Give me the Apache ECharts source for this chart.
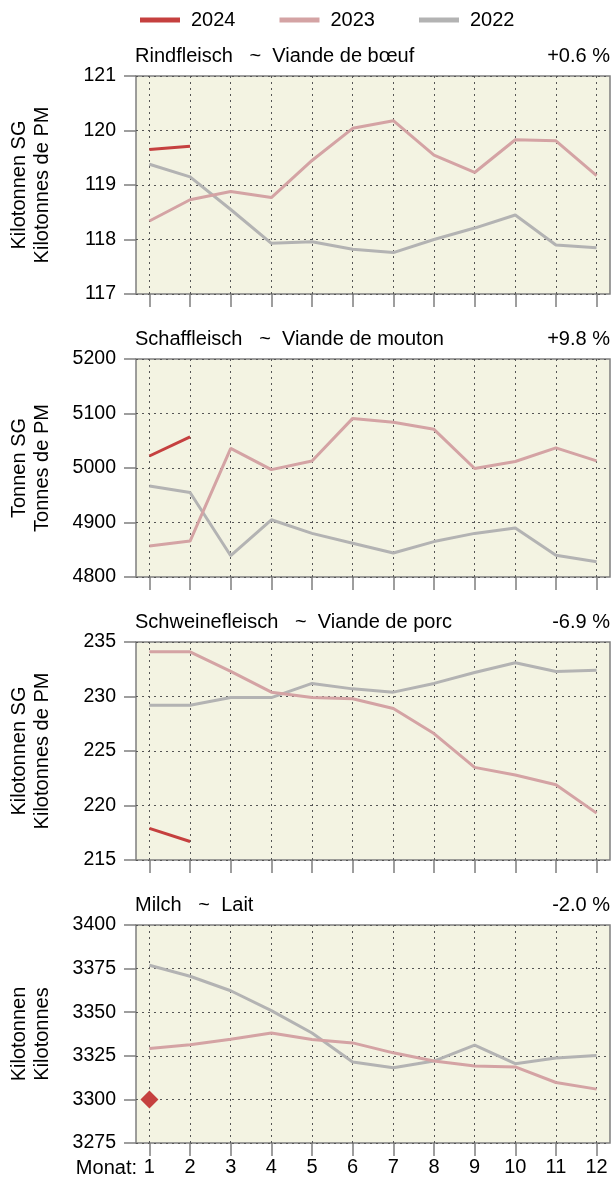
<!DOCTYPE html>
<html>
<head>
<meta charset="utf-8">
<script src="https://cdn.jsdelivr.net/npm/echarts@6/dist/echarts.min.js"></script>
<style>
  html, body { margin: 0; padding: 0; background: #fff; }
  #chart { width: 613px; height: 1186px; }
</style>
</head>
<body>
<div id="chart"></div>
<script>
// Monate
const months = [1, 2, 3, 4, 5, 6, 7, 8, 9, 10, 11, 12]
const years = ['2024', '2023', '2022']

// Rindfleisch (Kilotonnen SG)
const beef2024 = [119.65, 119.71]
const beef2023 = [118.34, 118.73, 118.88, 118.77, 119.45, 120.04, 120.18, 119.55, 119.23, 119.83, 119.81, 119.17]
const beef2022 = [119.38, 119.15, 118.55, 117.93, 117.96, 117.82, 117.76, 118.0, 118.21, 118.45, 117.9, 117.85]

// Schaffleisch (Tonnen SG)
const sheep2024 = [5022, 5057]
const sheep2023 = [4857, 4866, 5036, 4997, 5013, 5091, 5084, 5071, 4999, 5012, 5037, 5013]
const sheep2022 = [4967, 4955, 4839, 4905, 4880, 4862, 4844, 4865, 4880, 4890, 4840, 4828]

// Schweinefleisch (Kilotonnen SG)
const pork2024 = [217.9, 216.7]
const pork2023 = [234.1, 234.1, 232.3, 230.4, 229.9, 229.8, 228.9, 226.6, 223.5, 222.8, 221.9, 219.3]
const pork2022 = [229.2, 229.2, 229.9, 229.9, 231.2, 230.7, 230.4, 231.2, 232.2, 233.1, 232.3, 232.4]

// Milch (Kilotonnen)
const milk2024 = [3300]
const milk2023 = [3329.2, 3331.4, 3334.5, 3338.1, 3334.3, 3332.4, 3326.7, 3322, 3319.1, 3318.6, 3309.7, 3305.9]
const milk2022 = [3376.9, 3370.6, 3362.3, 3350.9, 3338.1, 3321.4, 3318.2, 3322, 3331.1, 3320.5, 3323.7, 3325.2]

const panels = [
  { title: 'Rindfleisch   ~  Viande de bœuf', pct: '+0.6 %', unit: 'Kilotonnen SG\nKilotonnes de PM', min: 117, max: 121, step: 1, data: [beef2024, beef2023, beef2022] },
  { title: 'Schaffleisch   ~  Viande de mouton', pct: '+9.8 %', unit: 'Tonnen SG\nTonnes de PM', min: 4800, max: 5200, step: 100, data: [sheep2024, sheep2023, sheep2022] },
  { title: 'Schweinefleisch   ~  Viande de porc', pct: '-6.9 %', unit: 'Kilotonnen SG\nKilotonnes de PM', min: 215, max: 235, step: 5, data: [pork2024, pork2023, pork2022] },
  { title: 'Milch   ~  Lait', pct: '-2.0 %', unit: 'Kilotonnen\nKilotonnes', min: 3275, max: 3400, step: 25, data: [milk2024, milk2023, milk2022] }
]

const colors = { '2024': '#c5403f', '2023': '#d4a3a4', '2022': '#b3b3b3' }
const font = 'Liberation Sans, Arial, sans-serif'
const tops = [76, 359, 642, 925]
const boxH = 218
const boxLeft = 134
const boxRight = 3

const chart = echarts.init(document.getElementById('chart'))

const grid = []
const xAxis = []
const yAxis = []
const series = []
const title = []

panels.forEach((p, i) => {
  grid.push({
    left: boxLeft, right: boxRight, top: tops[i], height: boxH,
    show: true, backgroundColor: '#f3f3e2', borderColor: '#7f7f7f', borderWidth: 1.5
  })
  xAxis.push({
    type: 'value', gridIndex: i, min: 0.67, max: 12.33,
    axisLine: { show: false },
    axisTick: { show: true, length: 13, customValues: months, lineStyle: { color: '#7f7f7f', width: 1.5 } },
    axisLabel: { show: i === 3, customValues: months, fontSize: 20, color: '#000', fontFamily: font, margin: 14 },
    splitLine: { show: true, lineStyle: { color: '#555', width: 1, type: [2, 4] } }
  })
  yAxis.push({
    type: 'value', gridIndex: i, min: p.min, max: p.max, interval: p.step,
    name: p.unit, nameLocation: 'middle', nameGap: 82,
    nameTextStyle: { fontSize: 20, color: '#000', fontFamily: font, lineHeight: 23 },
    axisLine: { show: false },
    axisTick: { show: true, length: 12, lineStyle: { color: '#7f7f7f', width: 1.5 } },
    axisLabel: { fontSize: 19.5, color: '#000', fontFamily: font, margin: 20, formatter: v => String(v) },
    splitLine: { show: true, lineStyle: { color: '#555', width: 1, type: [2, 4] } }
  })
  title.push({
    text: p.title, left: boxLeft + 1, top: tops[i] - 30, padding: 0,
    textStyle: { fontSize: 20, fontWeight: 'normal', color: '#000', fontFamily: font }
  })
  title.push({
    text: p.pct, right: boxRight, top: tops[i] - 30, padding: 0,
    textStyle: { fontSize: 20, fontWeight: 'normal', color: '#000', fontFamily: font }
  })
  // 2022 zuerst, 2024 oben
  ;[2, 1, 0].forEach(k => {
    const vals = p.data[k]
    const single = vals.length === 1
    series.push({
      name: years[k], type: 'line', xAxisIndex: i, yAxisIndex: i,
      data: vals.map((v, j) => [months[j], v]),
      symbol: single ? 'diamond' : 'none', symbolSize: 18, showSymbol: single,
      itemStyle: { color: colors[years[k]] },
      lineStyle: { color: colors[years[k]], width: 3 },
      z: 3 + (2 - k), silent: true, animation: false
    })
  })
})

const option = {
  animation: false,
  legend: {
    data: years.map(y => ({ name: y, icon: 'rect' })),
    left: 135, top: 5, itemWidth: 40, itemHeight: 5, itemGap: 44,
    textStyle: { fontSize: 20, color: '#000', fontFamily: font, padding: [0, 0, 0, 6] },
    selectedMode: false
  },
  title,
  grid,
  xAxis,
  yAxis,
  series,
  graphic: [{
    type: 'text', x: 137, y: 1168,
    style: { text: 'Monat:', fontSize: 20, fontFamily: font, fill: '#000', align: 'right', verticalAlign: 'middle' }
  }]
}

chart.setOption(option)
</script>
</body>
</html>
